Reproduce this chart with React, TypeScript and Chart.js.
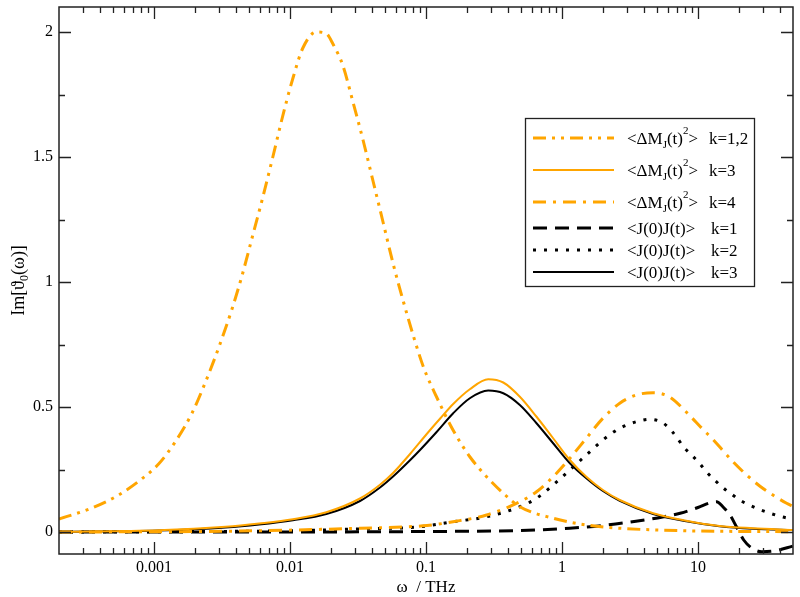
import React, { useEffect, useRef } from "react";
import { Chart, registerables } from "chart.js";
Chart.register(...registerables);

const ORANGE = "#ffa500";
const FONT = '"Liberation Serif", "Times New Roman", serif';

const xMin = 0.0002;
const xMax = 50;
const yMin = -0.088;
const yMax = 2.1;
const xMajorTicks = [0.001, 0.01, 0.1, 1, 10];
const xTickLabels = ["0.001", "0.01", "0.1", "1", "10"];
const xMinorTicks = [
  0.0003, 0.0004, 0.0005, 0.0006, 0.0007, 0.0008, 0.0009,
  0.002, 0.003, 0.004, 0.005, 0.006, 0.007, 0.008, 0.009,
  0.02, 0.03, 0.04, 0.05, 0.06, 0.07, 0.08, 0.09,
  0.2, 0.3, 0.4, 0.5, 0.6, 0.7, 0.8, 0.9,
  2, 3, 4, 5, 6, 7, 8, 9,
  20, 30, 40,
];
const yMajorTicks = [0, 0.5, 1, 1.5, 2];
const yTickLabels = ["0", "0.5", "1", "1.5", "2"];
const yMinorTicks = [0.25, 0.75, 1.25, 1.75];

// <ΔM_J(t)^2>  k=1,2
const dM12X = [0.0002, 0.000345, 0.000545, 0.00081, 0.00108, 0.00143, 0.0019, 0.00239, 0.003, 0.00376, 0.00446, 0.00528, 0.00628, 0.00745, 0.00883, 0.0105, 0.0124, 0.0156, 0.0185, 0.0207, 0.0245, 0.0291, 0.0345, 0.0409, 0.0485, 0.0575, 0.0684, 0.0811, 0.0962, 0.1197, 0.158, 0.21, 0.279, 0.37, 0.49, 0.861, 1.51, 2.66, 8.2, 50];
const dM12Y = [0.052, 0.095, 0.147, 0.212, 0.272, 0.36, 0.475, 0.6, 0.74, 0.895, 1.03, 1.18, 1.335, 1.497, 1.663, 1.815, 1.935, 2.0, 1.993, 1.952, 1.865, 1.718, 1.566, 1.401, 1.236, 1.07, 0.919, 0.781, 0.657, 0.54, 0.408, 0.301, 0.221, 0.155, 0.101, 0.055, 0.028, 0.015, 0.005, 0.001];

// <ΔM_J(t)^2>  k=3
const dM3X = [0.0002, 0.00108, 0.00336, 0.00593, 0.0105, 0.0185, 0.0327, 0.0459, 0.0575, 0.0766, 0.1016, 0.1276, 0.1585, 0.21, 0.287, 0.37, 0.49, 0.65, 0.861, 1.143, 1.51, 2.0, 2.66, 4.68, 8.2, 14.4, 25.4, 50];
const dM3Y = [0.001, 0.007, 0.021, 0.034, 0.051, 0.079, 0.134, 0.189, 0.237, 0.313, 0.393, 0.455, 0.512, 0.571, 0.611, 0.598, 0.541, 0.461, 0.375, 0.288, 0.221, 0.168, 0.128, 0.075, 0.045, 0.024, 0.015, 0.008];

// <ΔM_J(t)^2>  k=4
const dM4X = [0.0002, 0.00336, 0.0327, 0.1016, 0.158, 0.279, 0.49, 0.65, 0.861, 1.143, 1.51, 2.0, 2.66, 3.52, 4.68, 6.2, 8.2, 10.9, 13, 15.3, 18.2, 22.8, 28.6, 35.8, 44.9, 50];
const dM4Y = [0.0, 0.003, 0.015, 0.026, 0.041, 0.068, 0.121, 0.161, 0.221, 0.295, 0.375, 0.455, 0.515, 0.548, 0.557, 0.54, 0.48, 0.41, 0.368, 0.325, 0.28, 0.228, 0.183, 0.147, 0.115, 0.103];

// <J(0)J(t)>  k=1
const jj1X = [0.0002, 0.01, 0.1, 0.49, 1.14, 2.0, 3.5, 5.5, 7.4, 10, 12.5, 13.7, 15.3, 17.2, 19.2, 21.7, 25, 29.5, 37, 50];
const jj1Y = [0, 0, 0.002, 0.006, 0.015, 0.026, 0.043, 0.06, 0.075, 0.098, 0.118, 0.121, 0.1, 0.068, 0.021, -0.032, -0.065, -0.079, -0.075, -0.056];

// <J(0)J(t)>  k=2
const jj2X = [0.0002, 0.01, 0.03, 0.09, 0.158, 0.279, 0.49, 0.65, 0.861, 1.143, 1.51, 2.0, 2.66, 3.52, 4.4, 5.5, 6.5, 8.0, 9.1, 10.4, 11.6, 13.3, 15.3, 17.7, 20.7, 24.5, 29.3, 34.8, 41.2, 50];
const jj2Y = [0.0, 0.005, 0.012, 0.021, 0.041, 0.061, 0.101, 0.135, 0.188, 0.248, 0.308, 0.368, 0.415, 0.441, 0.451, 0.437, 0.4, 0.335, 0.305, 0.271, 0.239, 0.207, 0.177, 0.151, 0.125, 0.105, 0.087, 0.073, 0.061, 0.051];

// <J(0)J(t)>  k=3
const jj3X = [0.0002, 0.00108, 0.00336, 0.00593, 0.0105, 0.0185, 0.0327, 0.0459, 0.0575, 0.0766, 0.0904, 0.1197, 0.1585, 0.21, 0.287, 0.37, 0.49, 0.65, 0.861, 1.143, 1.51, 2.0, 2.66, 4.68, 8.2, 14.4, 25.4, 50];
const jj3Y = [0.001, 0.006, 0.018, 0.03, 0.047, 0.072, 0.124, 0.178, 0.223, 0.288, 0.328, 0.4, 0.475, 0.535, 0.566, 0.555, 0.508, 0.435, 0.355, 0.275, 0.215, 0.164, 0.125, 0.072, 0.043, 0.023, 0.013, 0.008];

type Part = { t: string; sub?: boolean; sup?: boolean };
const dMLabel: Part[] = [{ t: "<ΔM" }, { t: "J", sub: true }, { t: "(t)" }, { t: "2", sup: true }, { t: ">" }];
const jjLabel: Part[] = [{ t: "<J(0)J(t)>" }];

const series = [
  { x: dM12X, y: dM12Y, color: ORANGE, width: 3, dash: [13, 6, 3, 6, 3, 6], label: dMLabel, k: "k=1,2" },
  { x: dM3X, y: dM3Y, color: ORANGE, width: 2, dash: [], label: dMLabel, k: "k=3" },
  { x: dM4X, y: dM4Y, color: ORANGE, width: 3, dash: [13, 7, 3, 7], label: dMLabel, k: "k=4" },
  { x: jj1X, y: jj1Y, color: "#000", width: 3, dash: [14, 8], label: jjLabel, k: "k=1" },
  { x: jj2X, y: jj2Y, color: "#000", width: 3, dash: [3, 8], label: jjLabel, k: "k=2" },
  { x: jj3X, y: jj3Y, color: "#000", width: 2, dash: [], label: jjLabel, k: "k=3" },
];

function partsWidth(ctx: CanvasRenderingContext2D, parts: Part[], size: number, small: number) {
  let w = 0;
  for (const p of parts) {
    ctx.font = `${p.sub || p.sup ? small : size}px ${FONT}`;
    w += ctx.measureText(p.t).width;
  }
  return w;
}

function drawParts(ctx: CanvasRenderingContext2D, parts: Part[], x: number, y: number, size: number, small: number, subOff: number, supOff: number) {
  let cx = x;
  for (const p of parts) {
    ctx.font = `${p.sub || p.sup ? small : size}px ${FONT}`;
    const dy = p.sub ? subOff : p.sup ? -supOff : 0;
    ctx.fillText(p.t, cx, y + dy);
    cx += ctx.measureText(p.t).width;
  }
  return cx;
}

const decorPlugin = {
  id: "decor",
  afterDraw(chart: any) {
    const ctx: CanvasRenderingContext2D = chart.ctx;
    const { left, right, top, bottom } = chart.chartArea;
    const xs = chart.scales.x;
    const ys = chart.scales.y;
    ctx.save();
    ctx.strokeStyle = "#222";
    ctx.lineWidth = 1.5;
    ctx.setLineDash([]);
    ctx.strokeRect(left, top, right - left, bottom - top);
    ctx.lineWidth = 1.3;
    const tickX = (v: number, len: number) => {
      const px = Math.round(xs.getPixelForValue(v)) + 0.5;
      ctx.beginPath();
      ctx.moveTo(px, bottom);
      ctx.lineTo(px, bottom - len);
      ctx.moveTo(px, top);
      ctx.lineTo(px, top + len);
      ctx.stroke();
    };
    const tickY = (v: number, len: number) => {
      const py = Math.round(ys.getPixelForValue(v)) + 0.5;
      ctx.beginPath();
      ctx.moveTo(left, py);
      ctx.lineTo(left + len, py);
      ctx.moveTo(right, py);
      ctx.lineTo(right - len, py);
      ctx.stroke();
    };
    xMajorTicks.forEach((v) => tickX(v, 12));
    xMinorTicks.forEach((v) => tickX(v, 6));
    yMajorTicks.forEach((v) => tickY(v, 12));
    yMinorTicks.forEach((v) => tickY(v, 6));

    // axis titles
    ctx.fillStyle = "#000";
    ctx.textBaseline = "alphabetic";
    ctx.textAlign = "left";
    const xt: Part[] = [{ t: "ω  / THz" }];
    const xw = partsWidth(ctx, xt, 17, 11);
    drawParts(ctx, xt, (left + right) / 2 - xw / 2, 592, 17, 11, 4, 9);

    const yt: Part[] = [{ t: "Im[ϑ" }, { t: "0", sub: true }, { t: "(ω)]" }];
    const yw = partsWidth(ctx, yt, 18, 12);
    ctx.save();
    ctx.translate(24, (top + bottom) / 2);
    ctx.rotate(-Math.PI / 2);
    drawParts(ctx, yt, -yw / 2, 0, 18, 12, 4, 9);
    ctx.restore();

    // legend
    const bx = 525, by = 118, bw = 229, bh = 168;
    ctx.fillStyle = "#fff";
    ctx.fillRect(bx, by, bw, bh);
    ctx.strokeStyle = "#222";
    ctx.lineWidth = 1.3;
    ctx.strokeRect(bx + 0.5, by + 0.5, bw, bh);
    const rows = [138, 170, 202, 228, 250, 272];
    series.forEach((s, i) => {
      const cy = rows[i];
      ctx.strokeStyle = s.color;
      ctx.lineWidth = s.width;
      ctx.lineCap = "butt";
      ctx.setLineDash(s.dash);
      ctx.beginPath();
      ctx.moveTo(533, cy);
      ctx.lineTo(614, cy);
      ctx.stroke();
      ctx.setLineDash([]);
      ctx.fillStyle = "#000";
      drawParts(ctx, s.label, 627, cy + 6, 17, 11, 4, 10);
      ctx.font = `17px ${FONT}`;
      ctx.fillText(s.k, i < 3 ? 709 : 711, cy + 6);
    });
    ctx.restore();
  },
};

export default function App() {
  const ref = useRef<HTMLCanvasElement | null>(null);
  useEffect(() => {
    document.body.style.margin = "0";
    const canvas = ref.current!;
    const chart = new Chart(canvas, {
      type: "line",
      data: {
        datasets: series.map((s, i) => ({
          label: "s" + i,
          data: s.x.map((xv, j) => ({ x: xv, y: s.y[j] })),
          borderColor: s.color,
          borderWidth: s.width,
          borderDash: s.dash,
          borderCapStyle: "butt",
          fill: false,
          pointRadius: 0,
          cubicInterpolationMode: "monotone",
        })),
      },
      options: {
        responsive: false,
        animation: false,
        events: [],
        layout: { padding: { top: 7, right: 7, left: 0, bottom: 0 } },
        plugins: { legend: { display: false }, tooltip: { enabled: false } },
        scales: {
          x: {
            type: "logarithmic",
            min: xMin,
            max: xMax,
            grid: { display: false, drawTicks: false },
            border: { display: false },
            afterBuildTicks: (s: any) => {
              s.ticks = xMajorTicks.map((v) => ({ value: v }));
            },
            afterFit: (s: any) => {
              s.height = 43;
              s.paddingLeft = 0;
              s.paddingRight = 0;
            },
            ticks: {
              autoSkip: false,
              maxRotation: 0,
              padding: 4,
              color: "#000",
              font: { family: FONT, size: 16 },
              callback: (_v: any, i: number) => xTickLabels[i],
            },
          },
          y: {
            type: "linear",
            min: yMin,
            max: yMax,
            grid: { display: false, drawTicks: false },
            border: { display: false },
            afterBuildTicks: (s: any) => {
              s.ticks = yMajorTicks.map((v) => ({ value: v }));
            },
            afterFit: (s: any) => {
              s.width = 59;
              s.paddingTop = 0;
              s.paddingBottom = 0;
            },
            ticks: {
              autoSkip: false,
              padding: 6,
              color: "#000",
              font: { family: FONT, size: 16 },
              callback: (_v: any, i: number) => yTickLabels[i],
            },
          },
        },
      } as any,
      plugins: [decorPlugin],
    });
    return () => chart.destroy();
  }, []);
  return <canvas ref={ref} width={800} height={597} style={{ display: "block" }} />;
}
